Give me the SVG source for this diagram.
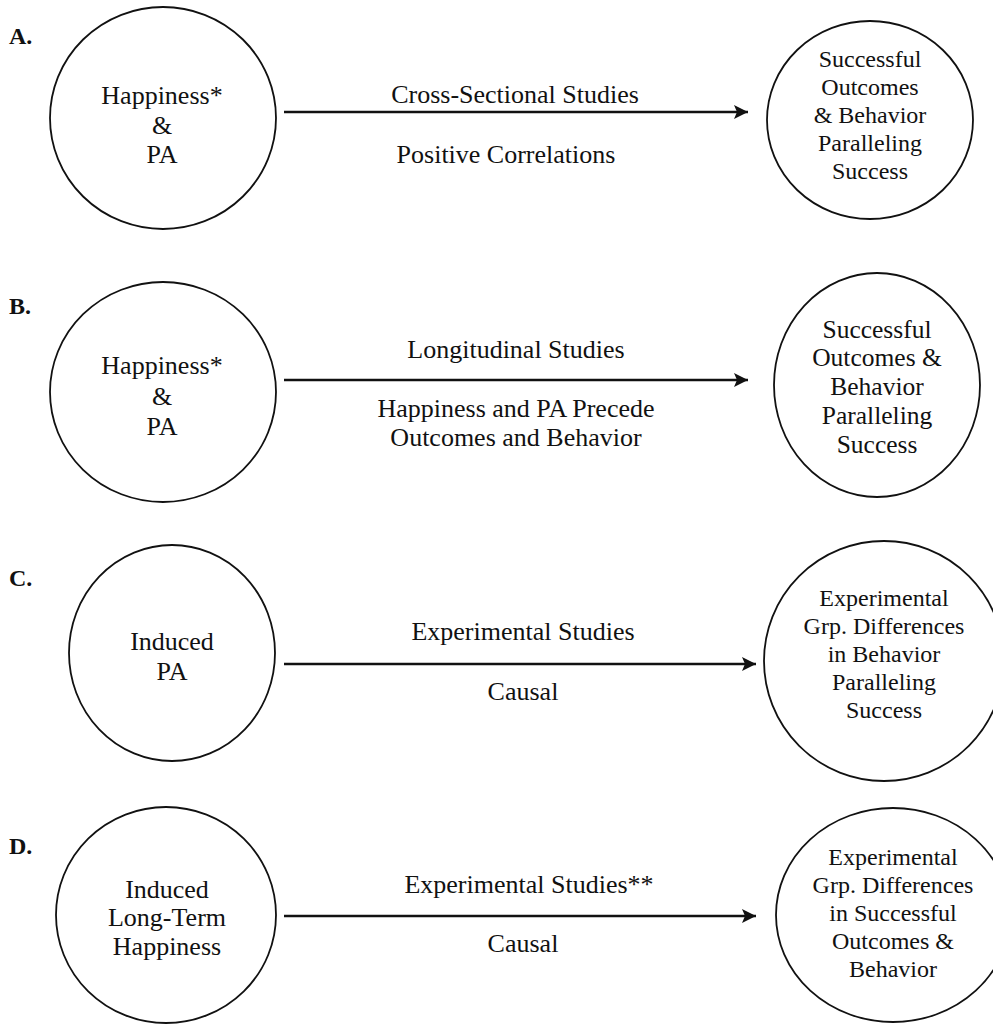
<svg xmlns="http://www.w3.org/2000/svg" width="993" height="1024" viewBox="0 0 993 1024">
<defs>
<style>
text { font-family: "Liberation Serif", "Times New Roman", serif; fill: #111; text-anchor: middle; }
.t26 { font-size: 26px; }
.t24 { font-size: 24px; }
.t25 { font-size: 25.5px; }
.lab { font-size: 24px; font-weight: bold; text-anchor: start; }
.node { fill: #fff; stroke: #111; stroke-width: 1.8; }
.conn { stroke: #111; stroke-width: 2.6; fill: none; }
</style>
<marker id="arr" markerUnits="userSpaceOnUse" markerWidth="16" markerHeight="16" refX="14" refY="7" orient="auto">
<path d="M0,0 L14,7 L0,14 L3,7 Z" fill="#111"/>
</marker>
</defs>
<rect width="993" height="1024" fill="#fff"/>

<g id="labels">
<text class="lab" x="9" y="44">A.</text>
<text class="lab" x="9" y="314">B.</text>
<text class="lab" x="9" y="586">C.</text>
<text class="lab" x="9" y="854">D.</text>
</g>

<g id="connectors">
<line class="conn" x1="284" y1="112" x2="748" y2="112" marker-end="url(#arr)"/>
<line class="conn" x1="284" y1="380" x2="748" y2="380" marker-end="url(#arr)"/>
<line class="conn" x1="284" y1="664" x2="756" y2="664" marker-end="url(#arr)"/>
<line class="conn" x1="284" y1="916" x2="756" y2="916" marker-end="url(#arr)"/>
</g>

<g id="edge-labels">
<text class="t26" x="515" y="103">Cross-Sectional Studies</text>
<text class="t26" x="506" y="163">Positive Correlations</text>
<text class="t26" x="516" y="358">Longitudinal Studies</text>
<text class="t26" x="516" y="417">Happiness and PA Precede</text>
<text class="t26" x="516" y="446">Outcomes and Behavior</text>
<text class="t26" x="523" y="640">Experimental Studies</text>
<text class="t26" x="523" y="700">Causal</text>
<text class="t26" x="529" y="893">Experimental Studies**</text>
<text class="t26" x="523" y="952">Causal</text>
</g>

<g id="nodeA1">
<ellipse class="node" cx="163" cy="118" rx="113" ry="111"/>
<text class="t26" x="162" y="104">Happiness*</text>
<text class="t26" x="162" y="134">&amp;</text>
<text class="t26" x="162" y="163">PA</text>
</g>
<g id="nodeA2">
<ellipse class="node" cx="870" cy="120" rx="103" ry="99"/>
<text class="t24" x="870" y="67">Successful</text>
<text class="t24" x="870" y="95">Outcomes</text>
<text class="t24" x="870" y="123">&amp; Behavior</text>
<text class="t24" x="870" y="151">Paralleling</text>
<text class="t24" x="870" y="179">Success</text>
</g>

<g id="nodeB1">
<ellipse class="node" cx="163" cy="392" rx="113" ry="110"/>
<text class="t26" x="162" y="374">Happiness*</text>
<text class="t26" x="162" y="405">&amp;</text>
<text class="t26" x="162" y="435">PA</text>
</g>
<g id="nodeB2">
<ellipse class="node" cx="877" cy="385" rx="103" ry="112"/>
<text class="t25" x="877" y="338">Successful</text>
<text class="t25" x="877" y="366">Outcomes &amp;</text>
<text class="t25" x="877" y="395">Behavior</text>
<text class="t25" x="877" y="424">Paralleling</text>
<text class="t25" x="877" y="453">Success</text>
</g>

<g id="nodeC1">
<ellipse class="node" cx="172" cy="653" rx="103" ry="108"/>
<text class="t26" x="172" y="650">Induced</text>
<text class="t26" x="172" y="680">PA</text>
</g>
<g id="nodeC2">
<ellipse class="node" cx="884" cy="661" rx="120" ry="120"/>
<text class="t24" x="884" y="606">Experimental</text>
<text class="t24" x="884" y="634">Grp. Differences</text>
<text class="t24" x="884" y="662">in Behavior</text>
<text class="t24" x="884" y="690">Paralleling</text>
<text class="t24" x="884" y="718">Success</text>
</g>

<g id="nodeD1">
<ellipse class="node" cx="166" cy="915" rx="110" ry="108"/>
<text class="t26" x="167" y="898">Induced</text>
<text class="t26" x="167" y="926">Long-Term</text>
<text class="t26" x="167" y="955">Happiness</text>
</g>
<g id="nodeD2">
<ellipse class="node" cx="893" cy="915" rx="117" ry="107"/>
<text class="t24" x="893" y="865">Experimental</text>
<text class="t24" x="893" y="893">Grp. Differences</text>
<text class="t24" x="893" y="921">in Successful</text>
<text class="t24" x="893" y="949">Outcomes &amp;</text>
<text class="t24" x="893" y="977">Behavior</text>
</g>
</svg>
